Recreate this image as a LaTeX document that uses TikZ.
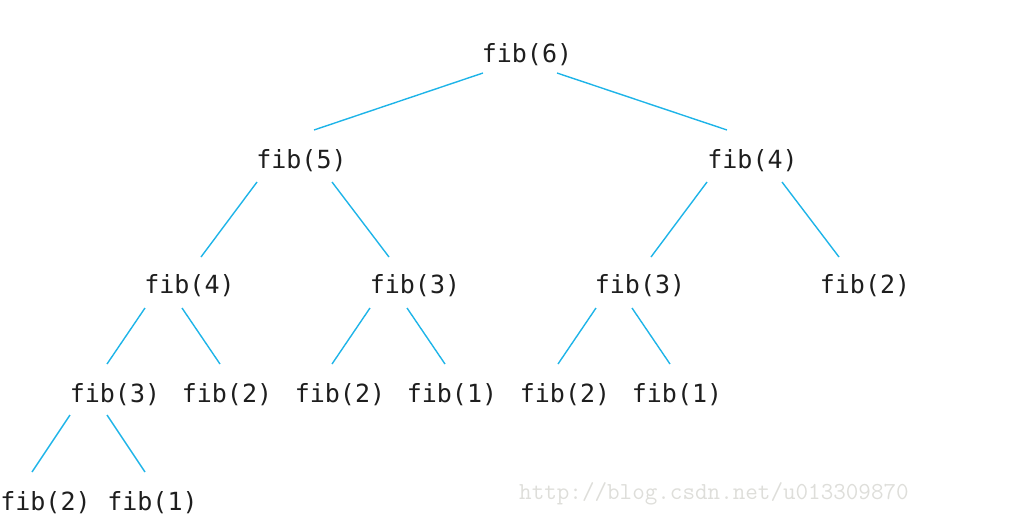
\documentclass[tikz,border=0pt]{standalone}
\usepackage{fontspec}
\newfontfamily\fibfont{DejaVu Sans Mono}
\definecolor{edgecol}{RGB}{30,180,232}
\definecolor{txtcol}{RGB}{30,30,30}
\definecolor{wmcol}{RGB}{222,222,218}
\tikzset{
  fibnode/.style={inner sep=0pt, anchor=base, text=txtcol, font=\fibfont\fontsize{25}{30}\selectfont},
  edge/.style={draw=edgecol, line width=1.4pt},
  wmark/.style={inner sep=0pt, anchor=base west, text=wmcol, font=\ttfamily\fontsize{24.4}{29}\selectfont}
}
\begin{document}
\begin{tikzpicture}[x=1pt,y=-1pt]
\useasboundingbox (0,0) rectangle (1013,528);
% level 1
\node[fibnode] (n6) at (527,62) {fib(6)};
% level 2
\node[fibnode] (n5) at (301.5,168) {fib(5)};
\node[fibnode] (n4r) at (752.5,168) {fib(4)};
% level 3
\node[fibnode] (n4l) at (189.5,293) {fib(4)};
\node[fibnode] (n3a) at (415,293) {fib(3)};
\node[fibnode] (n3b) at (640,293) {fib(3)};
\node[fibnode] (n2a) at (865,293) {fib(2)};
% level 4
\node[fibnode] (n3c) at (115,402) {fib(3)};
\node[fibnode] (n2b) at (227,402) {fib(2)};
\node[fibnode] (n2c) at (340,402) {fib(2)};
\node[fibnode] (n1a) at (452,402) {fib(1)};
\node[fibnode] (n2d) at (565,402) {fib(2)};
\node[fibnode] (n1b) at (677,402) {fib(1)};
% level 5
\node[fibnode] (n2e) at (45.5,510) {fib(2)};
\node[fibnode] (n1c) at (152.5,510) {fib(1)};
% watermark
\node[wmark] (wm) at (519,499) {http://blog.csdn.net/u013309870};
% edges
\draw[edge] ([shift={(-44,11)}]n6.base) -- ([shift={(12.5,-38)}]n5.base);
\draw[edge] ([shift={(30,11)}]n6.base) -- ([shift={(-25.5,-38)}]n4r.base);
\draw[edge] ([shift={(-44.5,14)}]n5.base) -- ([shift={(11.5,-36)}]n4l.base);
\draw[edge] ([shift={(30.5,14)}]n5.base) -- ([shift={(-26,-36)}]n3a.base);
\draw[edge] ([shift={(-45.5,14)}]n4r.base) -- ([shift={(11,-36)}]n3b.base);
\draw[edge] ([shift={(29.5,14)}]n4r.base) -- ([shift={(-26,-36)}]n2a.base);
\draw[edge] ([shift={(-44.5,15)}]n4l.base) -- ([shift={(-8,-38)}]n3c.base);
\draw[edge] ([shift={(-7.5,15)}]n4l.base) -- ([shift={(-7,-38)}]n2b.base);
\draw[edge] ([shift={(-45,15)}]n3a.base) -- ([shift={(-8,-38)}]n2c.base);
\draw[edge] ([shift={(-8,15)}]n3a.base) -- ([shift={(-7,-38)}]n1a.base);
\draw[edge] ([shift={(-44,15)}]n3b.base) -- ([shift={(-7,-38)}]n2d.base);
\draw[edge] ([shift={(-8,15)}]n3b.base) -- ([shift={(-7,-38)}]n1b.base);
\draw[edge] ([shift={(-45,13)}]n3c.base) -- ([shift={(-13.5,-38)}]n2e.base);
\draw[edge] ([shift={(-8,13)}]n3c.base) -- ([shift={(-7.5,-38)}]n1c.base);
\end{tikzpicture}
\end{document}
